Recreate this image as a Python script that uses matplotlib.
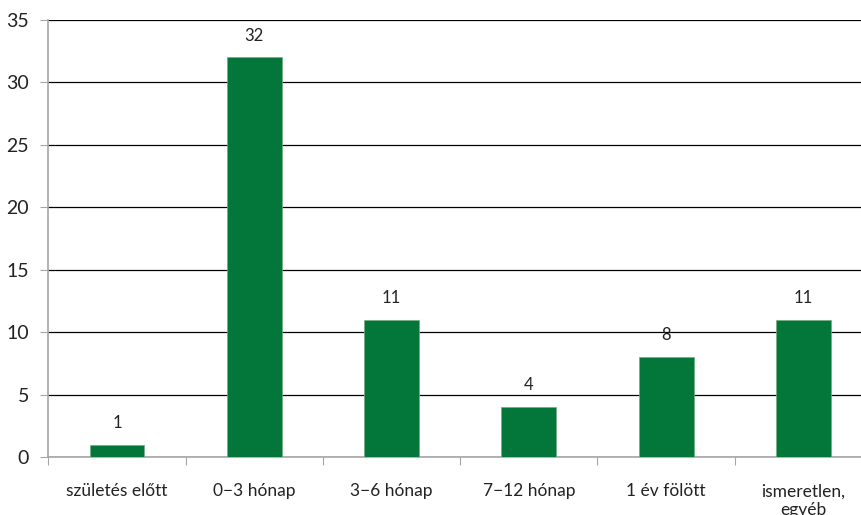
import matplotlib.pyplot as plt
import numpy as np

plt.rcParams['font.family'] = ['Lato', 'DejaVu Sans']

# Data
categories = ['születés előtt', '0\u22123 hónap', '3\u22126 hónap', '7\u221212 hónap',
              '1 év fölött', 'ismeretlen,\negyéb']
values = [1, 32, 11, 4, 8, 11]

green = '#03773A'
gray = '#A6A6A6'

fig = plt.figure(figsize=(8.61, 5.15), dpi=100)
# plot area runs a little past the right edge of the picture
ax = fig.add_axes([48.4 / 861, 58 / 515, 823.6 / 861, 437 / 515])

x = np.arange(len(categories))
ax.bar(x, values, width=0.4, color=green, edgecolor='#6fae7f', linewidth=0.5, zorder=3)

for xi, v in zip(x, values):
    ax.annotate(str(v), (xi, v), xytext=(0, 10), textcoords='offset points',
                ha='center', va='bottom', fontsize=12, color='#222222')

ax.set_xlim(-0.5, len(categories) - 0.5)
ax.set_ylim(0, 35)
ax.set_yticks(np.arange(0, 36, 5))
ax.yaxis.grid(True, color='black', linewidth=0.9, zorder=0)

# category boundaries as major ticks, names on minor ticks
ax.set_xticks(np.arange(-0.5, len(categories), 1))
ax.set_xticklabels([])
ax.set_xticks(x, minor=True)
ax.set_xticklabels(categories, minor=True, fontsize=12.5, color='#222222')
ax.tick_params(axis='x', which='major', length=6, color=gray, direction='out')
ax.tick_params(axis='x', which='minor', length=0, pad=19)
ax.tick_params(axis='y', length=6, color=gray, labelsize=14, colors='#222222', pad=8)
ax.tick_params(axis='y', color=gray)

for s in ['top', 'right']:
    ax.spines[s].set_visible(False)
for s in ['left', 'bottom']:
    ax.spines[s].set_color(gray)
    ax.spines[s].set_linewidth(1.2)

fig.savefig('out.png', dpi=100)
